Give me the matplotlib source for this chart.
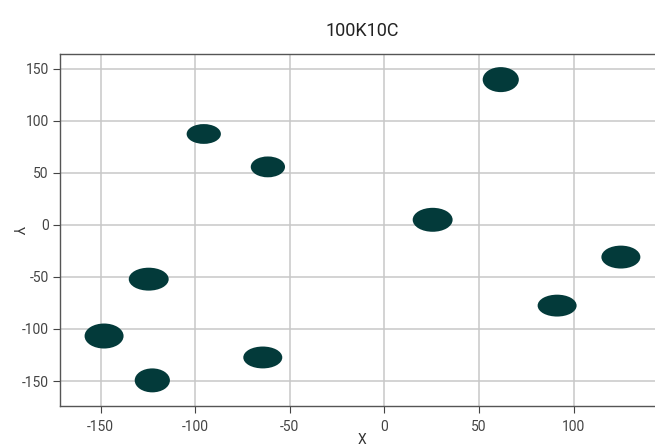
import matplotlib
matplotlib.use('Agg')
import matplotlib.pyplot as plt
from matplotlib.patches import Ellipse

plt.rcParams['font.family'] = ['Roboto', 'DejaVu Sans']
plt.rcParams['axes.unicode_minus'] = False

# cluster centres and spreads
cluster_x = [-95.5, -61.6, 25.5, -64.3, -124.6, -148.2, -122.7, 61.5, 125.0, 91.3]
cluster_y = [87.2, 55.6, 4.8, -127.4, -52.2, -106.8, -149.4, 139.4, -31.0, -77.6]
cluster_w = [17.0, 17.0, 20.0, 19.5, 20.0, 19.5, 17.5, 18.0, 19.5, 19.5]
cluster_h = [17.0, 18.0, 21.0, 19.0, 20.0, 22.0, 21.0, 22.0, 20.0, 19.0]

x_ticks = [-150, -100, -50, 0, 50, 100]
y_ticks = [-150, -100, -50, 0, 50, 100, 150]

color = '#033a3a'

fig = plt.figure(figsize=(6.55, 4.46), dpi=100)
ax = fig.add_axes([60 / 655, 40 / 446, 604 / 655, 352 / 446])

for cx, cy, w, h in zip(cluster_x, cluster_y, cluster_w, cluster_h):
    ax.add_patch(Ellipse((cx, cy), w, h, facecolor=color, edgecolor=color, lw=1.5, zorder=3))

ax.set_xlim(-171.5, 147.8)
ax.set_ylim(-174, 164)
ax.set_xticks(x_ticks)
ax.set_yticks(y_ticks)
ax.grid(True, color='#c8c8c8', lw=1.1)
ax.set_axisbelow(True)

for side in ['left', 'bottom', 'top']:
    ax.spines[side].set_color('#555555')
    ax.spines[side].set_linewidth(1.0)
ax.spines['right'].set_visible(False)
ax.tick_params(colors='#444444', labelsize=10, length=5, width=0.8, pad=3)
ax.tick_params(axis='x', pad=5)

ax.set_title('100K10C', fontsize=13, color='#222222', pad=13)
ax.set_xlabel('X', fontsize=10, color='#333333', va='center')
ax.set_ylabel('Y', fontsize=10, color='#333333', va='center', ha='center', rotation=270)
ax.xaxis.set_label_coords(0.5, -0.096)
ax.yaxis.set_label_coords(-0.072, 0.5)

fig.savefig('out.png', dpi=100)
